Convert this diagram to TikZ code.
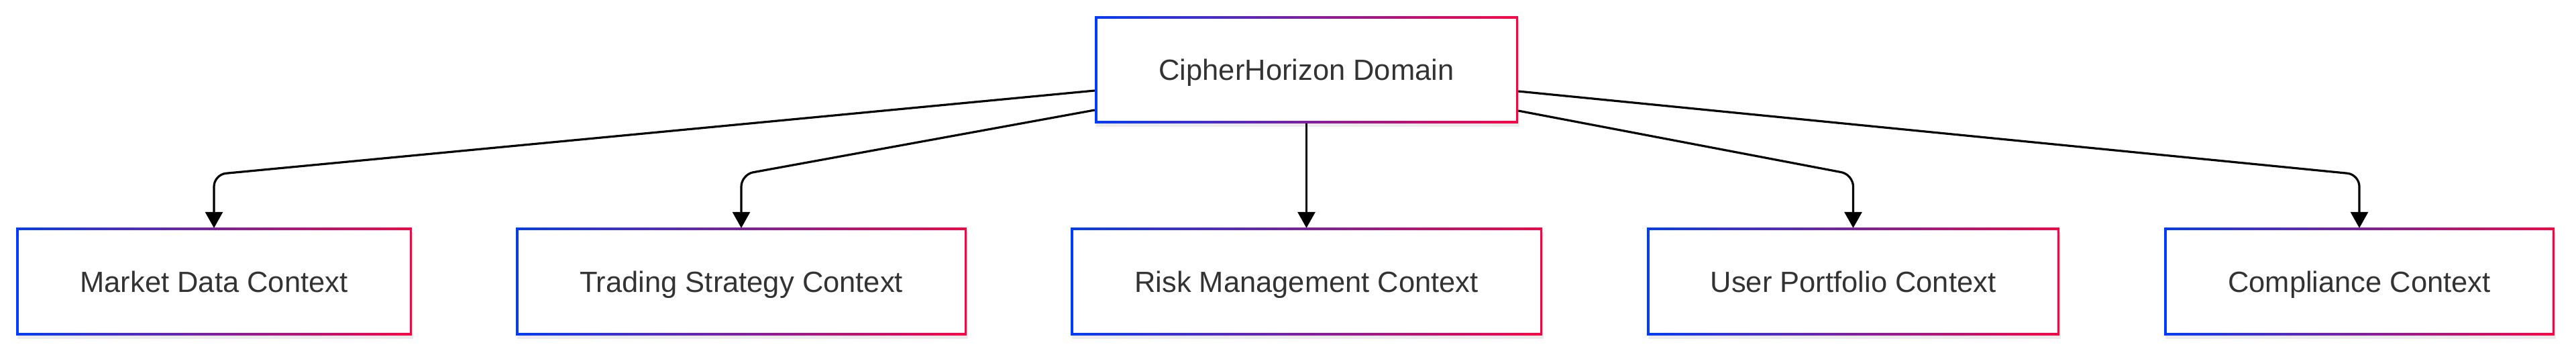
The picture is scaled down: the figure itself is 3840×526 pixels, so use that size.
\documentclass[tikz,border=0pt]{standalone}
\usepackage{fontspec}
\setmainfont{Liberation Sans}
\usetikzlibrary{arrows.meta,shadows}
\definecolor{gBlue}{RGB}{0,60,255}
\definecolor{gRed}{RGB}{255,0,68}
\definecolor{txt}{RGB}{51,51,51}
\tikzset{
  ctxbox/.style={rectangle, inner sep=0pt, left color=gBlue, right color=gRed,
    minimum height=159pt, text height=31pt, text depth=0pt,
    font=\fontsize{43.5}{52}\selectfont, text=txt,
    drop shadow={shadow xshift=2pt, shadow yshift=-6pt, opacity=0.08, fill=black},
    path picture={\fill[white] ([xshift=3.5pt,yshift=3.5pt]path picture bounding box.south west) rectangle ([xshift=-3.5pt,yshift=-3.5pt]path picture bounding box.north east);}},
  edge/.style={draw=black, line width=3.2pt, rounded corners=18pt,
    -{Triangle[length=24pt,width=26pt]}}
}
\begin{document}
\begin{tikzpicture}[x=1pt,y=-1pt]
\useasboundingbox[fill=white] (0,0) rectangle (3840,526);
\node[ctxbox, minimum width=631pt] (top) at (1947.5,104) {CipherHorizon Domain};
\node[ctxbox, minimum width=590pt] (n1) at (319,419.5) {Market Data Context};
\node[ctxbox, minimum width=672pt] (n2) at (1105,419.5) {Trading Strategy Context};
\node[ctxbox, minimum width=703pt] (n3) at (1947.5,419.5) {Risk Management Context};
\node[ctxbox, minimum width=615pt] (n4) at (2762.5,419.5) {User Portfolio Context};
\node[ctxbox, minimum width=582pt] (n5) at (3517,419.5) {Compliance Context};
\draw[edge] ([yshift=-31pt]top.west) -- (n1.north |- 0,260) -- (n1.north);
\draw[edge] ([yshift=-60pt]top.west) -- (n2.north |- 0,260) -- (n2.north);
\draw[edge] (top.south) -- (n3.north);
\draw[edge] ([yshift=-61pt]top.east) -- (n4.north |- 0,260) -- (n4.north);
\draw[edge] ([yshift=-32pt]top.east) -- (n5.north |- 0,260) -- (n5.north);
\end{tikzpicture}
\end{document}
